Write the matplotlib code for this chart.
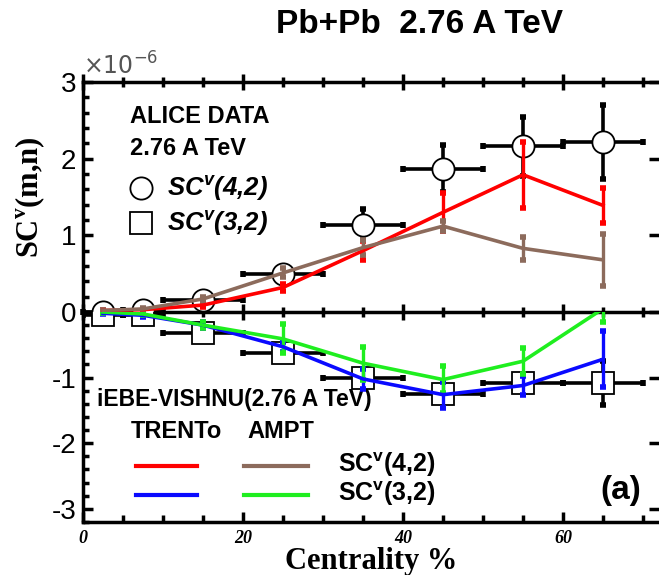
import numpy as np
import matplotlib
matplotlib.use("Agg")
from matplotlib import pyplot as plt
from matplotlib.ticker import MultipleLocator

# centrality bins (%)
cent = [2.5, 7.5, 15, 25, 35, 45, 55, 65]
cent_err = [2.5, 2.5, 5, 5, 5, 5, 5, 5]

# ALICE data, units of 1e-6
alice_42 = [0.0, 0.02, 0.16, 0.50, 1.14, 1.87, 2.16, 2.22]
alice_42_err = [0.03, 0.03, 0.05, 0.08, 0.20, 0.31, 0.38, 0.48]
alice_32 = [-0.05, -0.05, -0.32, -0.62, -1.0, -1.25, -1.08, -1.08]
alice_32_err = [0.02, 0.02, 0.04, 0.06, 0.08, 0.10, 0.12, 0.33]

# iEBE-VISHNU, TRENTo
trento_42 = [0.02, 0.03, 0.09, 0.32, 0.80, 1.30, 1.79, 1.39]
trento_42_err = [0.01, 0.01, 0.03, 0.05, 0.12, 0.25, 0.43, 0.23]
trento_32 = [-0.02, -0.05, -0.20, -0.53, -1.02, -1.26, -1.12, -0.72]
trento_32_err = [0.01, 0.02, 0.04, 0.08, 0.15, 0.20, 0.15, 0.43]

# iEBE-VISHNU, AMPT
ampt_42 = [0.02, 0.04, 0.17, 0.51, 0.84, 1.12, 0.83, 0.68]
ampt_42_err = [0.01, 0.01, 0.03, 0.06, 0.10, 0.07, 0.15, 0.34]
ampt_32 = [0.0, -0.03, -0.20, -0.41, -0.78, -1.03, -0.75, 0.05]
ampt_32_err = [0.01, 0.02, 0.05, 0.22, 0.25, 0.21, 0.20, 0.20]

RED = "#ff0000"
BROWN = "#8c6b5c"
BLUE = "#0a0aff"
GREEN = "#1fee1f"

sans = ["Liberation Sans", "DejaVu Sans"]
serif = ["Liberation Serif", "DejaVu Serif"]

fig = plt.figure(figsize=(6.59, 5.75), dpi=100)
ax1 = fig.add_axes([0.126, 0.4574, 0.874, 0.4])
ax2 = fig.add_axes([0.126, 0.0922, 0.874, 0.3652])
ax2.patch.set_alpha(0)


def style_axis(ax):
    ax.set_xlim(0, 72)
    ax.xaxis.set_major_locator(MultipleLocator(20))
    ax.xaxis.set_minor_locator(MultipleLocator(5))
    ax.yaxis.set_major_locator(MultipleLocator(1))
    ax.yaxis.set_minor_locator(MultipleLocator(0.2))
    ax.spines["right"].set_visible(False)
    for s in ["left", "top", "bottom"]:
        ax.spines[s].set_linewidth(2.5)
    ax.tick_params(axis="y", which="both", direction="in", left=True, right=True,
                   width=2.5, labelsize=20, pad=5)
    ax.tick_params(axis="y", which="major", length=7)
    ax.tick_params(axis="y", which="minor", length=4, right=False)


def draw_model(ax, y, yerr, color):
    ax.errorbar(cent, y, yerr=yerr, color=color, lw=2.6, elinewidth=2.4,
                capsize=2.5, capthick=4, zorder=5)


# ---- top panel: SC(4,2)
style_axis(ax1)
ax1.set_ylim(0, 3)
ax1.tick_params(axis="x", which="both", top=True, bottom=True, labelbottom=False,
                labeltop=False, width=2.5)
ax1.tick_params(axis="x", which="major", direction="inout", length=11)
ax1.tick_params(axis="x", which="minor", direction="inout", length=7)
ax1.set_yticks([0, 1, 2, 3])
ax1.set_yticklabels(["0", "1", "2", "3"], family=sans, fontsize=20)
ax1.errorbar(cent, alice_42, xerr=cent_err, yerr=alice_42_err, fmt="none",
             ecolor="black", elinewidth=2.6, capsize=2.5, capthick=4,
             zorder=3, clip_on=False)
ax1.plot(cent, alice_42, "o", ms=16, mfc="white", mec="black", mew=1.3,
         zorder=4, clip_on=False)
draw_model(ax1, trento_42, trento_42_err, RED)
draw_model(ax1, ampt_42, ampt_42_err, BROWN)
ax1.text(0.0, 1.01, r"$\times10^{-6}$", transform=ax1.transAxes, fontsize=17,
         color="#555555", ha="left", va="bottom", family=sans)
ax1.set_ylabel(r"SC$^{\mathregular{v}}$(m,n)", family=serif, fontweight="bold",
               fontsize=22, labelpad=10)

ax1.text(0.082, 0.852, "ALICE DATA", transform=ax1.transAxes, family=sans,
         fontweight="bold", fontsize=17, va="center")
ax1.text(0.082, 0.713, "2.76 A TeV", transform=ax1.transAxes, family=sans,
         fontweight="bold", fontsize=17, va="center")
ax1.plot([0.10], [0.539], "o", ms=16, mfc="white", mec="black", mew=1.3,
         transform=ax1.transAxes)
ax1.plot([0.10], [0.387], "s", ms=16, mfc="white", mec="black", mew=1.3,
         transform=ax1.transAxes)
ax1.text(0.146, 0.539, r"SC$^{\mathregular{v}}$(4,2)", transform=ax1.transAxes,
         family=sans, fontweight="bold", style="italic", fontsize=18.5,
         va="center")
ax1.text(0.146, 0.387, r"SC$^{\mathregular{v}}$(3,2)", transform=ax1.transAxes,
         family=sans, fontweight="bold", style="italic", fontsize=18.5,
         va="center")

# ---- bottom panel: SC(3,2)
style_axis(ax2)
ax2.set_ylim(-3.2, 0)
ax2.spines["top"].set_visible(False)
ax2.set_yticks([-3, -2, -1])
ax2.set_yticklabels(["-3", "-2", "-1"], family=sans, fontsize=20)
ax2.tick_params(axis="x", which="both", direction="in", top=False, width=2.5)
ax2.tick_params(axis="x", which="major", length=7, pad=6)
ax2.tick_params(axis="x", which="minor", length=5)
ax2.set_xticks([0, 20, 40, 60])
ax2.set_xticklabels(["0", "20", "40", "60"], family=serif, style="italic",
                    fontweight="bold", fontsize=13)
ax2.errorbar(cent, alice_32, xerr=cent_err, yerr=alice_32_err, fmt="none",
             ecolor="black", elinewidth=2.6, capsize=2.5, capthick=4, zorder=3)
ax2.plot(cent, alice_32, "s", ms=16, mfc="white", mec="black", mew=1.3, zorder=4)
draw_model(ax2, trento_32, trento_32_err, BLUE)
draw_model(ax2, ampt_32, ampt_32_err, GREEN)
ax2.set_xlabel("Centrality %", family=serif, fontweight="bold", fontsize=22,
               labelpad=0)

ax2.text(0.024, 0.581, "iEBE-VISHNU(2.76 A TeV)", transform=ax2.transAxes,
         family=sans, fontweight="bold", fontsize=16.5, va="center")
ax2.text(0.082, 0.429, "TRENTo", transform=ax2.transAxes, family=sans,
         fontweight="bold", fontsize=17, va="center")
ax2.text(0.285, 0.429, "AMPT", transform=ax2.transAxes, family=sans,
         fontweight="bold", fontsize=17, va="center")
ax2.plot([0.092, 0.198], [0.267, 0.267], color=RED, lw=3, transform=ax2.transAxes)
ax2.plot([0.28, 0.39], [0.267, 0.267], color=BROWN, lw=3, transform=ax2.transAxes)
ax2.plot([0.092, 0.198], [0.129, 0.129], color=BLUE, lw=3, transform=ax2.transAxes)
ax2.plot([0.28, 0.39], [0.129, 0.129], color=GREEN, lw=3, transform=ax2.transAxes)
ax2.text(0.443, 0.275, r"SC$^{\mathregular{v}}$(4,2)", transform=ax2.transAxes,
         family=sans, fontweight="bold", fontsize=18, va="center")
ax2.text(0.443, 0.135, r"SC$^{\mathregular{v}}$(3,2)", transform=ax2.transAxes,
         family=sans, fontweight="bold", fontsize=18, va="center")
ax2.text(0.934, 0.152, "(a)", transform=ax2.transAxes, family=sans,
         fontweight="bold", fontsize=24, ha="center", va="center")

fig.text(0.637, 0.958, "Pb+Pb  2.76 A TeV", family=sans, fontweight="bold",
         fontsize=24, ha="center", va="center")

fig.savefig("out.png", dpi=100)
